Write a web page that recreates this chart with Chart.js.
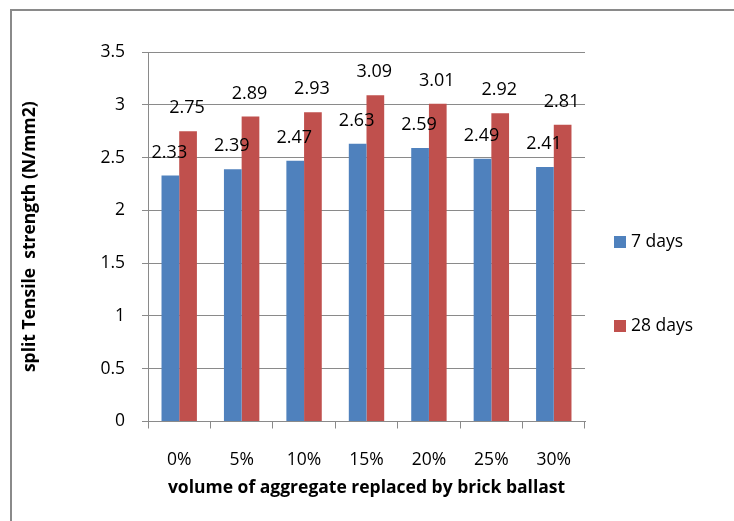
<!DOCTYPE html>
<html>
<head>
<meta charset="utf-8">
<script src="https://cdn.jsdelivr.net/npm/chart.js@4"></script>
<style>
  html, body { margin: 0; padding: 0; background: #fff; }
  #wrap { position: relative; width: 734px; height: 521px; overflow: hidden; }
  #frame { position: absolute; left: 10px; top: 9px; width: 800px; height: 600px;
           border-left: 2px solid #8a8a8a; border-top: 2px solid #8a8a8a; }
  #legend { position: absolute; left: 614px; top: 0; font-family: "Open Sans", sans-serif;
            font-size: 17.5px; color: #000; }
  .item { position: absolute; left: 0; white-space: nowrap; }
  .box { position: absolute; left: 0; width: 12px; height: 12px; }
  .txt { position: absolute; left: 17px; }
</style>
</head>
<body>
<div id="wrap">
  <div id="frame"></div>
  <canvas id="chart" width="734" height="521"></canvas>
  <div id="legend"></div>
</div>
<script>
// ---------- DATA ----------
const categories = ["0%", "5%", "10%", "15%", "20%", "25%", "30%"];
const days7 = [2.33, 2.39, 2.47, 2.63, 2.59, 2.49, 2.41];
const days28 = [2.75, 2.89, 2.93, 3.09, 3.01, 2.92, 2.81];
const seriesNames = ["7 days", "28 days"];
const colors = ["#4F81BD", "#C0504D"];

const font = "'Open Sans', sans-serif";
const gridColor = "#8a8a8a";

// ---------- VALUE LABELS ----------
const valueLabels = {
  id: "valueLabels",
  afterDatasetsDraw(chart) {
    const ctx = chart.ctx;
    ctx.save();
    ctx.font = "18px " + font;
    ctx.fillStyle = "#000";
    ctx.textAlign = "center";
    ctx.textBaseline = "middle";
    chart.data.datasets.forEach((ds, i) => {
      chart.getDatasetMeta(i).data.forEach((bar, j) => {
        ctx.fillText(ds.data[j].toFixed(2), bar.x - 1, bar.y - 23);
      });
    });
    ctx.restore();
  }
};

const chart = new Chart(document.getElementById("chart"), {
  type: "bar",
  data: {
    labels: categories,
    datasets: [
      { label: seriesNames[0], data: days7, backgroundColor: colors[0] },
      { label: seriesNames[1], data: days28, backgroundColor: colors[1] }
    ]
  },
  options: {
    responsive: false,
    animation: false,
    layout: { padding: { top: 52, right: 149, left: 0, bottom: 0 } },
    datasets: { bar: { categoryPercentage: 0.567, barPercentage: 1 } },
    plugins: { legend: { display: false }, tooltip: { enabled: false } },
    scales: {
      y: {
        min: 0, max: 3.5,
        ticks: {
          stepSize: 0.5, padding: 17, color: "#000", font: { family: font, size: 17.5 },
          callback: v => String(v)
        },
        grid: { color: gridColor, tickLength: 6, tickColor: gridColor },
        border: { color: gridColor },
        title: {
          display: true, text: "split Tensile  strength (N/mm2)", color: "#000",
          font: { family: font, size: 17.5, weight: "bold" }, padding: { top: 20, bottom: 0 }
        },
        afterFit: s => { s.width = 148; }
      },
      x: {
        ticks: { padding: 21, color: "#000", font: { family: font, size: 17.5 } },
        grid: { display: true, drawOnChartArea: false, offset: true, tickLength: 7, color: gridColor },
        border: { color: gridColor },
        title: {
          display: true, text: "volume of aggregate replaced by brick ballast", color: "#000",
          font: { family: font, size: 17.5, weight: "bold" }, padding: { top: 0, bottom: 22 }
        },
        afterFit: s => { s.height = 99.5; }
      }
    }
  },
  plugins: [valueLabels]
});

// ---------- LEGEND ----------
const legendTops = [234, 318];
const legend = document.getElementById("legend");
seriesNames.forEach((name, i) => {
  const item = document.createElement("div");
  item.className = "item";
  item.style.top = legendTops[i] + "px";
  item.innerHTML = `<span class="box" style="background:${colors[i]};top:2px"></span><span class="txt" style="top:-6px">${name}</span>`;
  legend.appendChild(item);
});
</script>
</body>
</html>
